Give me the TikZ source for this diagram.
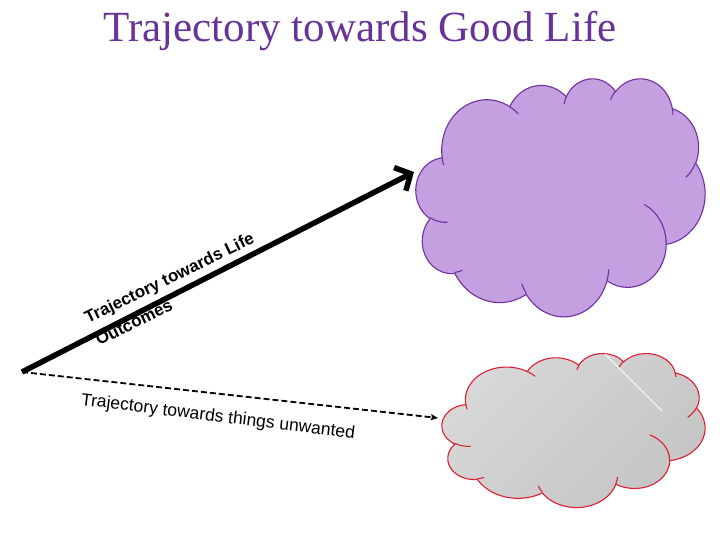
\documentclass[tikz,border=0pt]{standalone}
\usepackage{fontspec}
\setmainfont{Liberation Serif}
\newfontfamily\arialfont{Liberation Sans}
\usetikzlibrary{arrows.meta}
\definecolor{titlepurple}{RGB}{102,51,153}
\definecolor{cloudpurple}{RGB}{197,160,224}
\definecolor{cloudedge}{RGB}{112,48,160}
\definecolor{cloudred}{RGB}{220,30,50}
\definecolor{graylight}{RGB}{216,216,216}
\definecolor{graydark}{RGB}{196,196,196}

% convert DrawingML "visual" arc angles to parametric angles
\newcommand\cldarc[5]{%
  \pgfmathsetmacro\cldtmpa{atan2(#2*sin(#4), #3*cos(#4))}%
  \pgfmathsetmacro\cldtmpb{atan2(#2*sin(#4+#5), #3*cos(#4+#5))}%
  \pgfmathsetmacro\cldtmpd{mod(\cldtmpb-(\cldtmpa)+720,360)}%
  \expandafter\let\csname cldS#1\endcsname\cldtmpa
  \expandafter\let\csname cldD#1\endcsname\cldtmpd}
\cldarc{A}{6753}{9190}{-190.4875}{123.7805}
\cldarc{B}{5333}{7267}{-144.1024}{89.9452}
\cldarc{C}{4365}{5945}{-145.8079}{99.7230}
\cldarc{D}{4857}{6595}{-130.9861}{117.2417}
\cldarc{E}{5333}{7273}{-78.7089}{109.0269}
\cldarc{F}{6775}{9220}{-46.2673}{130.2690}
\cldarc{G}{5785}{7867}{0.6250}{114.0333}
\cldarc{H}{6752}{9215}{22.4516}{115.1726}
\cldarc{I}{7720}{10543}{66.2426}{75.7110}
\cldarc{J}{4360}{5918}{-274.9421}{146.7356}
\cldarc{K}{4345}{5945}{-246.8285}{152.5189}
\cldarc{L}{4345}{5945}{86.7420}{26.4295}
\cldarc{M}{4360}{5918}{73.6105}{11.4475}
\cldarc{N}{6752}{9215}{137.6242}{14.0811}
\cldarc{O}{6752}{9215}{6.4533}{15.9984}
\cldarc{P}{5785}{7867}{-70.2924}{70.9174}
\cldarc{Q}{5333}{7273}{30.3180}{27.7515}
\cldarc{R}{4857}{6595}{-13.7443}{14.8589}
\cldarc{S}{4857}{6595}{-149.1815}{18.1954}
\cldarc{T}{4365}{5945}{-163.4943}{17.6864}
\cldarc{U}{6753}{9190}{-66.7070}{12.3194}
\cldarc{V}{6753}{9190}{157.6544}{11.8582}

\newcommand\cloudoutline{(39.00,143.70)
 arc[start angle=\cldSA, delta angle=\cldDA, x radius=67.53, y radius=91.90]
 arc[start angle=\cldSB, delta angle=\cldDB, x radius=53.33, y radius=72.67]
 arc[start angle=\cldSC, delta angle=\cldDC, x radius=43.65, y radius=59.45]
 arc[start angle=\cldSD, delta angle=\cldDD, x radius=48.57, y radius=65.95]
 arc[start angle=\cldSE, delta angle=\cldDE, x radius=53.33, y radius=72.73]
 arc[start angle=\cldSF, delta angle=\cldDF, x radius=67.75, y radius=92.20]
 arc[start angle=\cldSG, delta angle=\cldDG, x radius=57.85, y radius=78.67]
 arc[start angle=\cldSH, delta angle=\cldDH, x radius=67.52, y radius=92.15]
 arc[start angle=\cldSI, delta angle=\cldDI, x radius=77.20, y radius=105.43]
 arc[start angle=\cldSJ, delta angle=\cldDJ, x radius=43.60, y radius=59.18]
 arc[start angle=\cldSK, delta angle=\cldDK, x radius=43.45, y radius=59.45]
 -- cycle}
\newcommand\cloudinner{
 (46.93,261.77) arc[start angle=\cldSL, delta angle=\cldDL, x radius=43.45, y radius=59.45]
 (69.28,348.99) arc[start angle=\cldSM, delta angle=\cldDM, x radius=43.60, y radius=59.18]
 (164.78,390.90) arc[start angle=\cldSN, delta angle=\cldDN, x radius=67.52, y radius=92.15]
 (288.27,347.51) arc[start angle=\cldSO, delta angle=\cldDO, x radius=67.52, y radius=92.15]
 (341.29,229.54) arc[start angle=\cldSP, delta angle=\cldDP, x radius=57.85, y radius=78.67]
 (417.98,153.54) arc[start angle=\cldSQ, delta angle=\cldDQ, x radius=53.33, y radius=72.73]
 (383.24,54.26) arc[start angle=\cldSR, delta angle=\cldDR, x radius=48.57, y radius=65.95]
 (290.78,39.52) arc[start angle=\cldSS, delta angle=\cldDS, x radius=48.57, y radius=65.95]
 (221.41,47.20) arc[start angle=\cldST, delta angle=\cldDT, x radius=43.65, y radius=59.45]
 (140.00,51.92) arc[start angle=\cldSU, delta angle=\cldDU, x radius=67.53, y radius=91.90]
 (41.27,157.89) arc[start angle=\cldSV, delta angle=\cldDV, x radius=67.53, y radius=91.90]}

\tikzset{
  titletext/.style={text=titlepurple, font=\fontsize{43}{50}\selectfont, inner sep=0pt},
  goodlabel/.style={font=\arialfont\bfseries\fontsize{17}{20}\selectfont, inner sep=0pt, anchor=base west, rotate=26},
  badlabel/.style={font=\arialfont\fontsize{17.5}{20}\selectfont, inner sep=0pt, anchor=base west, rotate=-7},
  goodarrow/.style={line width=5.5pt, -{Straight Barb[length=12pt,width=26pt]}},
  badarrow/.style={line width=1.8pt, dash pattern=on 6pt off 3pt, -{Stealth[length=7pt,width=6pt,inset=1pt]}},
  purplecloud/.style={fill=cloudpurple, draw=cloudedge, line width=1.1pt},
  purpleinner/.style={draw=cloudedge, line width=1.1pt},
  graycloud/.style={top color=graylight, bottom color=graydark, shading angle=45, draw=cloudred, line width=1.1pt},
  grayinner/.style={draw=cloudred, line width=1.1pt},
}

\begin{document}
\begin{tikzpicture}[x=1pt,y=-1pt]
\useasboundingbox[fill=white] (0,0) rectangle (720,540);

\node[titletext, anchor=base] (title) at (360,42) {Trajectory towards Good Life};

% clouds
\begin{scope}[shift={(416,78)}, x=0.66898pt, y=-0.55093pt]
  \path[purplecloud] \cloudoutline;
  \path[purpleinner] \cloudinner;
\end{scope}
\begin{scope}[shift={(442,353)}, x=0.60880pt, y=-0.35648pt]
  \path[graycloud] \cloudoutline;
  \path[grayinner] \cloudinner;
\end{scope}
\draw[white, line width=0.8pt] (605,354) -- (662,411);

% labels
\node[goodlabel] (goodtext) at (88,324) {Trajectory towards Life};
\node[goodlabel] (goodtext2) at (99,346) {Outcomes};
\node[badlabel] (badtext) at (80.5,405) {Trajectory towards things unwanted};

% arrows
\coordinate (origin) at (22,372);
\coordinate (goodtip) at (414,172);
\coordinate (badtip) at (438,418);
\draw[goodarrow] (origin) -- (goodtip);
\draw[badarrow] (origin) -- (badtip);
\end{tikzpicture}
\end{document}
